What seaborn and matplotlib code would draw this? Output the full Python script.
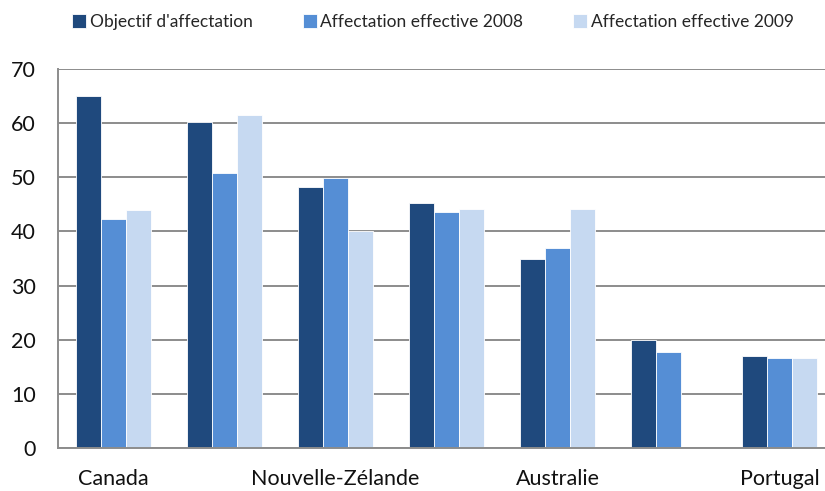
import numpy as np
import pandas as pd
import matplotlib
matplotlib.use('Agg')
import matplotlib.pyplot as plt
import seaborn as sns
from matplotlib.ticker import FixedLocator

# -----------------------------
# DATA
# -----------------------------
tick_labels = ["Canada", "", "Nouvelle-Zélande", "", "Australie", "", "Portugal"]
series = ["Objectif d'affectation", "Affectation effective 2008", "Affectation effective 2009"]
objectif = [65.1, 60.3, 48.2, 45.2, 34.9, 20.0, 16.9]
effective_2008 = [42.3, 50.8, 49.9, 43.6, 36.9, 17.7, 16.6]
effective_2009 = [43.9, 61.5, 40.0, 44.2, 44.2, np.nan, 16.6]
colors = ["#1F497D", "#558ED5", "#C6D9F1"]

groups = list(range(len(tick_labels)))
df = pd.DataFrame({
    "group": groups * 3,
    "series": [series[0]] * 7 + [series[1]] * 7 + [series[2]] * 7,
    "value": objectif + effective_2008 + effective_2009,
})

# -----------------------------
# PLOT
# -----------------------------
sns.set_style("white")
plt.rcParams['font.family'] = ['Lato', 'DejaVu Sans']

fig = plt.figure(figsize=(8.25, 4.91), dpi=100)
ax = fig.add_axes([58 / 825, 43 / 491, 777 / 825, 379 / 491])

sns.barplot(data=df, x="group", y="value", hue="series", order=groups,
            hue_order=series, palette=colors, saturation=1, width=0.67, ax=ax,
            edgecolor="white", linewidth=0.6, legend=True)

ax.set_ylim(0, 70)
ax.set_xlim(-0.5, 6.5)
ax.set_yticks(range(0, 71, 10))
ax.yaxis.grid(True, color="#8C8C8C", linewidth=1.4)
ax.set_axisbelow(True)
ax.set_xlabel("")
ax.set_ylabel("")

ax.set_xticks(groups)
ax.set_xticklabels(tick_labels, fontsize=15.5, color="#111111")
ax.xaxis.set_minor_locator(FixedLocator([g - 0.5 for g in groups] + [6.5]))
ax.tick_params(axis="x", which="major", length=0, pad=15)
ax.tick_params(axis="x", which="minor", length=7, width=1.3, color="#8C8C8C", direction="out")
ax.tick_params(axis="y", length=6, width=1.3, color="#8C8C8C", labelsize=15.5,
               labelcolor="#111111", pad=10, direction="out")

for side in ["top", "right"]:
    ax.spines[side].set_visible(False)
for side in ["left", "bottom"]:
    ax.spines[side].set_color("#8C8C8C")
    ax.spines[side].set_linewidth(1.4)

handles, labels = ax.get_legend_handles_labels()
ax.legend(handles, labels, loc="center", bbox_to_anchor=(433 / 825, 1 - 22 / 491),
          bbox_transform=fig.transFigure, ncol=3, frameon=False, fontsize=12.5,
          handlelength=0.8, handleheight=0.8, handletextpad=0.2, columnspacing=2.9)

plt.savefig("out.png", dpi=100)
plt.close()
